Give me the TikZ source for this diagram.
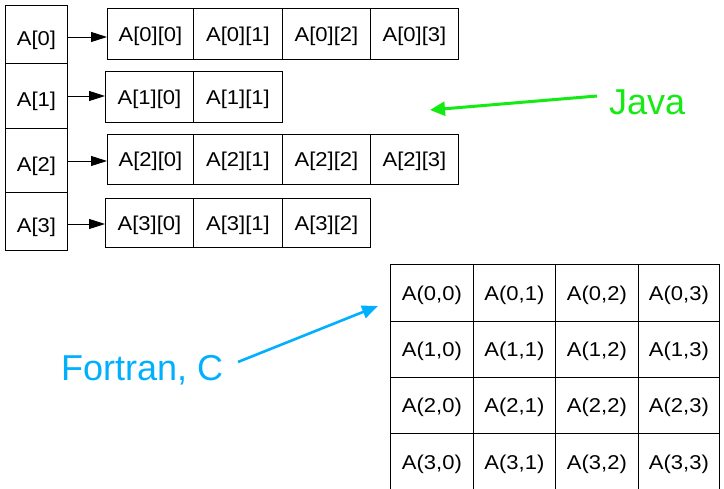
\documentclass[tikz,border=0pt]{standalone}
\usepackage{fontspec}
\setmainfont{Liberation Sans}
\newfontfamily\cellfont[FakeStretch=1.1]{Liberation Sans}
\usetikzlibrary{arrows.meta}
\definecolor{javagreen}{RGB}{20,235,20}
\definecolor{fcblue}{RGB}{0,176,255}
\begin{document}
\begin{tikzpicture}[x=1pt,y=-1pt,
  box/.style={draw, line width=0.9pt, anchor=north west, inner sep=0pt,
    text height=19pt, text depth=4.5pt,
    font=\cellfont\fontsize{20}{24}\selectfont},
  lbox/.style={box, text height=26pt, text depth=4pt},
  gtext/.style={inner sep=0pt, text height=19pt, text depth=4.5pt,
    font=\cellfont\fontsize{20}{24}\selectfont},
  ptr/.style={line width=0.9pt, -{Triangle[length=16pt,width=10pt]}},
  bigtext/.style={inner sep=0pt, anchor=base west, font=\fontsize{36}{40}\selectfont}]
\useasboundingbox (0,0) rectangle (724,489);
\clip (0,0) rectangle (724,489);

% left column
\node[lbox, minimum width=62pt, minimum height=58pt] (L0) at (5,5) {A[0]};
\node[lbox, minimum width=62pt, minimum height=65pt] (L1) at (5,63) {A[1]};
\node[lbox, minimum width=62pt, minimum height=64pt] (L2) at (5,128) {A[2]};
\node[lbox, minimum width=62pt, minimum height=58pt] (L3) at (5,192) {A[3]};

% row 0
\node[box, minimum width=86pt, minimum height=51pt] (R00) at (107,8) {A[0][0]};
\node[box, minimum width=89pt, minimum height=51pt] (R01) at (193,8) {A[0][1]};
\node[box, minimum width=88pt, minimum height=51pt] (R02) at (282,8) {A[0][2]};
\node[box, minimum width=88pt, minimum height=51pt] (R03) at (370,8) {A[0][3]};
% row 1
\node[box, minimum width=88pt, minimum height=51pt] (R10) at (105,71) {A[1][0]};
\node[box, minimum width=89pt, minimum height=51pt] (R11) at (193,71) {A[1][1]};
% row 2
\node[box, minimum width=86pt, minimum height=50pt] (R20) at (107,134) {A[2][0]};
\node[box, minimum width=89pt, minimum height=50pt] (R21) at (193,134) {A[2][1]};
\node[box, minimum width=88pt, minimum height=50pt] (R22) at (282,134) {A[2][2]};
\node[box, minimum width=88pt, minimum height=50pt] (R23) at (370,134) {A[2][3]};
% row 3
\node[box, minimum width=88pt, minimum height=49pt] (R30) at (105,198) {A[3][0]};
\node[box, minimum width=89pt, minimum height=49pt] (R31) at (193,198) {A[3][1]};
\node[box, minimum width=88pt, minimum height=49pt] (R32) at (282,198) {A[3][2]};

% pointers
\draw[ptr] (L0.east |- 0,37) -- (R00.west |- 0,37);
\draw[ptr] (L1.east |- 0,96) -- (R10.west |- 0,96);
\draw[ptr] (L2.east |- 0,161) -- (R20.west |- 0,161);
\draw[ptr] (L3.east |- 0,224) -- (R30.west |- 0,224);

% Java label
\node[bigtext, text=javagreen] (java) at (609,115) {Java};
\coordinate (jstart) at (597,96);
\coordinate (jtip) at (430,110);
\draw[javagreen, line width=3pt, -{Triangle[length=15pt,width=14pt]}] (jstart) -- (jtip);

% Fortran label
\node[bigtext, text=fcblue] (fortran) at (61,381) {Fortran, C};
\coordinate (fstart) at (238,362);
\coordinate (ftip) at (378,306);
\draw[fcblue, line width=2.6pt, -{Triangle[length=16pt,width=13pt]}] (fstart) -- (ftip);

% grid
\foreach \r/\top/\h in {0/264/57, 1/321/56, 2/377/56, 3/433/58}{
  \foreach \c/\lft/\w in {0/390/83, 1/473/82, 2/555/83, 3/638/81}{
    \node[box, minimum width=\w pt, minimum height=\h pt,
      label={[gtext]center:{A(\r,\c)}}] (g\r\c) at (\lft,\top) {};
  }
}
\end{tikzpicture}
\end{document}
